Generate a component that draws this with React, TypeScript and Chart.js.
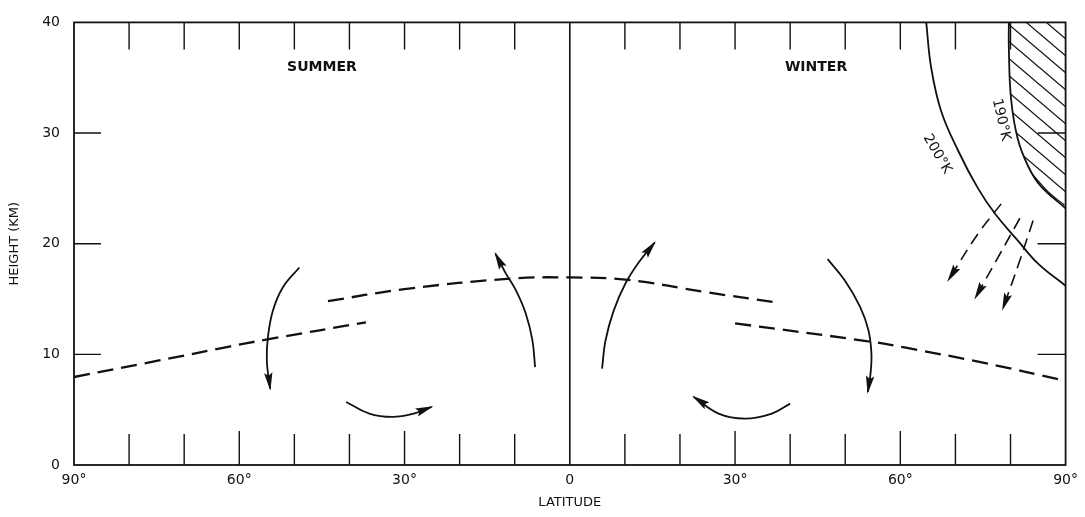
import React, { useEffect, useRef } from "react";
import { Chart, registerables } from "chart.js";
Chart.register(...registerables);

type P = { x: number; y: number };
const pts = (a: number[][]): P[] => a.map(([x, y]) => ({ x, y }));

// axis ticks
const latRange = [-90, 90];
const heightRange = [0, 40];
const latLabelStep = 30;
const heightLabelStep = 10;
const latEdgeMarks = [-80, -70, -60, -50, -40, -30, -20, -10, 10, 20, 30, 40, 50, 60, 70, 80];
const latMajorMarks = [-60, -30, 30, 60];
const heightEdgeMarks = [10, 20, 30];

// tropopause (dashed)
const tropoSummerLow = [[-90, 7.95], [-75, 9.4], [-61.8, 10.7], [-54.9, 11.35], [-37, 12.9]];
const tropoUpper = [[-43.9, 14.8], [-30, 15.9], [-10.5, 16.85], [0, 16.95], [10.1, 16.75], [25, 15.6], [37.4, 14.7]];
const tropoWinterLow = [[30, 12.8], [54.6, 11.15], [61, 10.6], [75, 9.25], [90, 7.6]];

// equator line
const equator = [[0, 0], [0, 40]];

// circulation arrows (solid, arrowhead at last point)
const arrowSummerDown = [[-49.1, 17.85], [-52.1, 16.05], [-53.9, 13.95], [-54.8, 11.55], [-55.0, 9.45], [-54.4, 6.9]];
const arrowSummerUp = [[-6.3, 8.85], [-6.8, 11.3], [-8.0, 13.7], [-9.8, 15.8], [-11.6, 17.3], [-13.5, 19.1]];
const arrowSummerBottom = [[-40.6, 5.7], [-36.4, 4.65], [-32.2, 4.35], [-28.3, 4.65], [-25.1, 5.25]];
const arrowWinterUp = [[5.85, 8.7], [6.5, 11.3], [8.0, 14.0], [10.1, 16.4], [12.5, 18.3], [15.4, 20.1]];
const arrowWinterDown = [[46.8, 18.6], [49.9, 16.7], [52.7, 14.3], [54.2, 12.2], [54.75, 10.1], [54.6, 8.3], [54.1, 6.6]];
const arrowWinterBottom = [[40.0, 5.55], [36.7, 4.65], [31.8, 4.2], [27.0, 4.65], [22.5, 6.15]];

// isotherms
const iso200 = [[64.7, 40], [65.6, 35.9], [67.4, 32.0], [70.5, 28.4], [74.1, 25.0], [77.2, 22.7], [81.3, 20.3], [85.0, 18.2], [90, 16.2]];
const iso190 = [[79.7, 40], [79.7, 37.6], [80.1, 33.1], [81.3, 29.5], [83.2, 27.0], [85.5, 25.2], [90, 23.2]];
const iso190Inner = [[84.1, 26.2], [87.0, 24.6], [89.8, 23.5]];

// dashed descending arrows
const dashArrow1 = [[78.3, 23.6], [74.1, 20.9], [68.7, 16.7]];
const dashArrow2 = [[81.7, 22.3], [78.0, 19.0], [73.6, 15.1]];
const dashArrow3 = [[84.1, 22.1], [81.5, 18.2], [78.6, 14.1]];

// text labels
const regionLabels = ["SUMMER", "WINTER"];
const regionLabelLat = [-45, 44.7];
const regionLabelHeight = [35.9, 35.9];
const isoLabels = ["190°K", "200°K"];
const isoLabelLat = [78.3, 66.7];
const isoLabelHeight = [31.2, 28.1];
const isoLabelAngle = [77, 60];

const xTitle = "LATITUDE";
const yTitle = "HEIGHT (KM)";

const FONT = "'DejaVu Sans', 'Liberation Sans', sans-serif";
const INK = "#111";

function makeHatch(): CanvasPattern | string {
  const c = document.createElement("canvas");
  const w = 20, h = 17;
  c.width = w; c.height = h;
  const g = c.getContext("2d");
  if (!g) return "rgba(0,0,0,0.1)";
  g.strokeStyle = INK;
  g.lineWidth = 1.3;
  const offs = [[0, 0], [-w, 0], [w, 0], [0, -h], [0, h]];
  for (const [ox, oy] of offs) {
    g.beginPath();
    g.moveTo(ox, oy);
    g.lineTo(ox + w, oy + h);
    g.stroke();
  }
  return g.createPattern(c, "repeat") || "rgba(0,0,0,0.1)";
}

const overlayPlugin = {
  id: "overlay",
  afterDatasetsDraw(chart: any) {
    const ctx = chart.ctx;
    const xs = chart.scales.x, ys = chart.scales.y;
    const ca = chart.chartArea;
    ctx.save();
    // frame
    ctx.strokeStyle = INK;
    ctx.lineWidth = 1.8;
    ctx.strokeRect(ca.left, ca.top, ca.right - ca.left, ca.bottom - ca.top);
    // edge marks
    ctx.lineWidth = 1.4;
    for (const v of latEdgeMarks) {
      const px = xs.getPixelForValue(v);
      const major = latMajorMarks.includes(v);
      ctx.beginPath();
      ctx.moveTo(px, ca.bottom);
      ctx.lineTo(px, ca.bottom - (major ? 34 : 31));
      ctx.moveTo(px, ca.top);
      ctx.lineTo(px, ca.top + 27);
      ctx.stroke();
    }
    for (const v of heightEdgeMarks) {
      const py = ys.getPixelForValue(v);
      ctx.beginPath();
      ctx.moveTo(ca.left, py);
      ctx.lineTo(ca.left + 27, py);
      ctx.moveTo(ca.right, py);
      ctx.lineTo(ca.right - 28, py);
      ctx.stroke();
    }
    // arrowheads
    chart.data.datasets.forEach((ds: any, i: number) => {
      if (!ds.arrow) return;
      const meta = chart.getDatasetMeta(i);
      const n = meta.data.length;
      const a = meta.data[n - 2], b = meta.data[n - 1];
      let dx = b.x - a.x, dy = b.y - a.y;
      const len = Math.hypot(dx, dy) || 1;
      dx /= len; dy /= len;
      const L = 16, W = 4.2;
      const bx = b.x - dx * L, by = b.y - dy * L;
      ctx.fillStyle = INK;
      ctx.beginPath();
      ctx.moveTo(b.x + dx * 2, b.y + dy * 2);
      ctx.lineTo(bx - dy * W, by + dx * W);
      ctx.lineTo(bx + dx * 3, by + dy * 3);
      ctx.lineTo(bx + dy * W, by - dx * W);
      ctx.closePath();
      ctx.fill();
    });
    // region labels
    ctx.fillStyle = INK;
    ctx.textAlign = "center";
    ctx.textBaseline = "middle";
    ctx.font = `bold 14px ${FONT}`;
    regionLabels.forEach((t, i) => {
      ctx.fillText(t, xs.getPixelForValue(regionLabelLat[i]), ys.getPixelForValue(regionLabelHeight[i]));
    });
    ctx.font = `14px ${FONT}`;
    isoLabels.forEach((t, i) => {
      ctx.save();
      ctx.translate(xs.getPixelForValue(isoLabelLat[i]), ys.getPixelForValue(isoLabelHeight[i]));
      ctx.rotate((isoLabelAngle[i] * Math.PI) / 180);
      ctx.fillText(t, 0, 0);
      ctx.restore();
    });
    ctx.restore();
  },
};

export default function App() {
  const ref = useRef<HTMLCanvasElement | null>(null);
  useEffect(() => {
    document.body.style.margin = "0";
    const canvas = ref.current;
    if (!canvas) return;
    const hatch = makeHatch();
    const solid = (d: number[][], extra: any = {}) => ({
      data: pts(d),
      showLine: true,
      borderColor: INK,
      borderWidth: 1.8,
      pointRadius: 0,
      tension: 0.4,
      fill: false,
      ...extra,
    });
    const dashed = (d: number[][], extra: any = {}) =>
      solid(d, { borderDash: [16, 8], borderWidth: 2.3, ...extra });

    const chart = new Chart(canvas, {
      type: "scatter",
      data: {
        datasets: [
          solid(iso190, { fill: "end", backgroundColor: hatch, borderWidth: 1.8 }),
          solid(iso190Inner, { borderWidth: 1.2 }),
          solid(iso200),
          solid(equator, { tension: 0, borderWidth: 1.6 }),
          dashed(tropoSummerLow),
          dashed(tropoUpper),
          dashed(tropoWinterLow),
          solid(arrowSummerDown, { arrow: true }),
          solid(arrowSummerUp, { arrow: true }),
          solid(arrowSummerBottom, { arrow: true }),
          solid(arrowWinterUp, { arrow: true }),
          solid(arrowWinterDown, { arrow: true }),
          solid(arrowWinterBottom, { arrow: true }),
          dashed(dashArrow1, { arrow: true, borderDash: [12, 7], borderWidth: 1.6 }),
          dashed(dashArrow2, { arrow: true, borderDash: [12, 7], borderWidth: 1.6 }),
          dashed(dashArrow3, { arrow: true, borderDash: [12, 7], borderWidth: 1.6 }),
        ] as any,
      },
      options: {
        responsive: false,
        animation: false,
        devicePixelRatio: 1,
        layout: { padding: { top: 21, right: 17, left: 0, bottom: 0 } },
        plugins: { legend: { display: false }, tooltip: { enabled: false } },
        scales: {
          x: {
            type: "linear",
            min: latRange[0],
            max: latRange[1],
            afterFit: (s: any) => { s.height = 52; },
            grid: { display: false, drawTicks: false },
            border: { display: false },
            ticks: {
              stepSize: latLabelStep,
              padding: 7,
              color: INK,
              font: { family: FONT, size: 14 },
              callback: (v: any) => (Number(v) === 0 ? "0" : Math.abs(Number(v)) + "°"),
            },
            title: {
              display: true,
              text: xTitle,
              color: INK,
              font: { family: FONT, size: 13 },
              padding: { top: 0, bottom: 7 },
            },
          },
          y: {
            type: "linear",
            min: heightRange[0],
            max: heightRange[1],
            afterFit: (s: any) => { s.width = 74; },
            grid: { display: false, drawTicks: false },
            border: { display: false },
            ticks: {
              stepSize: heightLabelStep,
              padding: 14,
              color: INK,
              font: { family: FONT, size: 14 },
            },
            title: {
              display: true,
              text: yTitle,
              color: INK,
              font: { family: FONT, size: 13 },
              padding: { top: 7, bottom: 0 },
            },
          },
        },
      },
      plugins: [overlayPlugin],
    });
    return () => chart.destroy();
  }, []);
  return (
    <canvas
      ref={ref}
      width={1085}
      height={517}
      style={{ position: "fixed", left: 0, top: 0, width: 1085, height: 517, background: "#fff" }}
    />
  );
}
